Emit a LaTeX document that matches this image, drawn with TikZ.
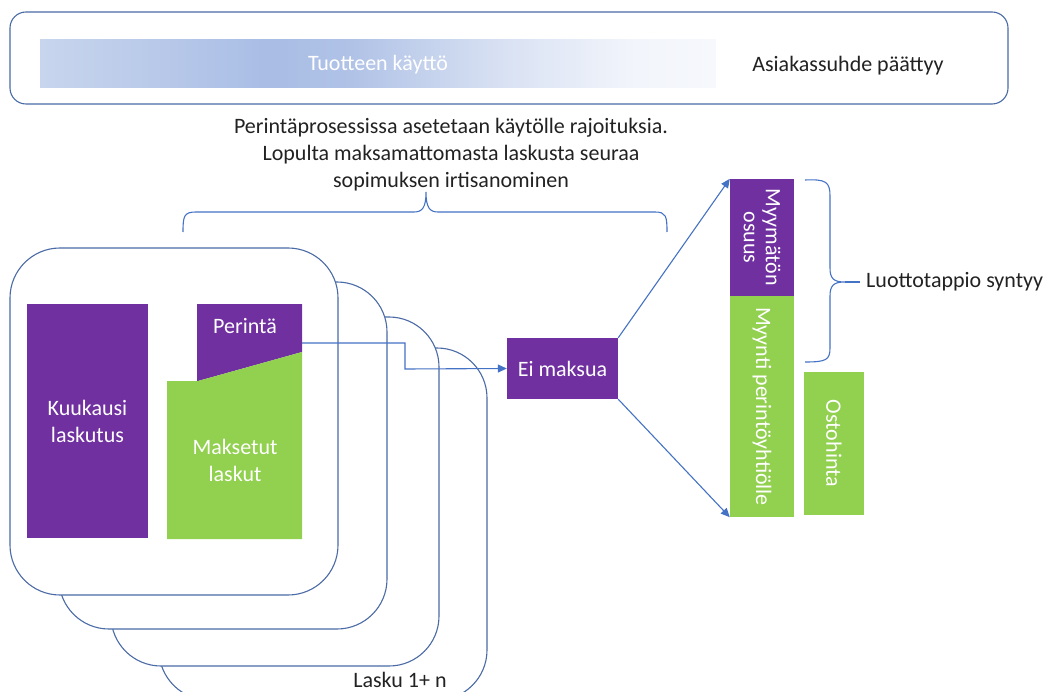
\documentclass[tikz,border=0pt]{standalone}
\usepackage{fontspec}
\setmainfont{Carlito}
\usetikzlibrary{arrows.meta}
\definecolor{purp}{HTML}{7030A0}
\definecolor{grn}{HTML}{92D050}
\definecolor{conn}{HTML}{4472C4}
\definecolor{framec}{HTML}{4A6AA5}
\definecolor{txt}{HTML}{222222}
\definecolor{ca}{HTML}{C8D5ED}
\definecolor{cb}{HTML}{A9BDE5}
\definecolor{cc}{HTML}{B0C2E6}
\definecolor{cd}{HTML}{D8E1F3}
\definecolor{ce}{HTML}{F2F5FB}
\definecolor{cf}{HTML}{F6F8FC}
\pgfdeclarehorizontalshading{usage}{100bp}{color(0bp)=(ca); color(25bp)=(ca); color(42bp)=(cb); color(48bp)=(cc); color(59bp)=(cd); color(69bp)=(ce); color(75bp)=(cf); color(100bp)=(cf)}
\tikzset{
  stackbox/.style={draw=framec, line width=1.1pt, fill=white, rounded corners=50pt},
  pbox/.style={fill=purp, text=white, inner sep=0pt, align=center},
  gbox/.style={fill=grn, text=white, inner sep=0pt, align=center},
  conn/.style={draw=conn, line width=1.1pt, -{Triangle[length=9pt,width=8pt]}},
  bracec/.style={draw=conn, line width=1.1pt},
  lbl/.style={text=txt, inner sep=0pt, align=center},
}
\begin{document}
\begin{tikzpicture}[x=1pt,y=-1pt,font=\fontsize{22}{27}\selectfont]
\useasboundingbox (0,0) rectangle (1048,692);
% top frame
\draw[framec, line width=1.1pt, rounded corners=16pt] (10,12) rectangle (1008,104);
\shade[shading=usage] (40,40) rectangle (716,88);
\node[text=white, inner sep=0pt] (use) at (378,65) {Tuotteen käyttö};
\node[lbl] (end) at (848,66) {Asiakassuhde päättyy};
% paragraph
\node[lbl] (para) at (451,155) {Perintäprosessissa asetetaan käytölle rajoituksia.\\Lopulta maksamattomasta laskusta seuraa\\sopimuksen irtisanominen};
% top brace
\draw[bracec] (183,232) .. controls (183,216) and (184,212) .. (196,212) -- (414,212)
  .. controls (422,212) and (426,208) .. (426,192)
  .. controls (426,208) and (430,212) .. (438,212) -- (655,212)
  .. controls (666,212) and (667,216) .. (667,232);
% stack of invoices
\draw[stackbox] (159,348) rectangle (487,700);
\draw[stackbox] (111,317) rectangle (439,666);
\draw[stackbox] (59,282) rectangle (387,629);
\draw[stackbox] (10,248) rectangle (338,595);
\node[lbl, anchor=center] (lasku) at (400,680) {Lasku 1+ n};
% contents
\node[pbox, minimum width=121pt, minimum height=234pt] (kk) at (87.5,421) {Kuukausi\\laskutus};
\fill[purp] (197,304) -- (302,304) -- (302,352) -- (198,381) -- (197,381) -- cycle;
\fill[grn] (167,381) -- (198,381) -- (302,352) -- (302,539) -- (167,539) -- cycle;
\node[text=white, inner sep=0pt] (per) at (245,326) {Perintä};
\node[text=white, inner sep=0pt, align=center] (mak) at (235,460) {Maksetut\\laskut};
\coordinate (perout) at (302,343);
\coordinate (bend) at (405,343);
% Ei maksua
\node[pbox, minimum width=111pt, minimum height=61pt] (ei) at (562.5,368.5) {Ei maksua};
\draw[conn] (perout) -- (bend) -- (405,369) -- (ei.west);
% right side boxes
\node[pbox, rotate=-90, minimum width=117pt, minimum height=64pt, font=\fontsize{22}{22}\selectfont] (myy) at (762,237.5) {Myymätön\\osuus};
\node[gbox, rotate=-90, minimum width=221pt, minimum height=64pt] (myynti) at (762,406.5) {Myynti perintöyhtiölle};
\node[gbox, rotate=-90, minimum width=143pt, minimum height=60pt] (osto) at (834,443.5) {Ostohinta};
\draw[conn] (ei.north east) -- (myy.south west);
\draw[conn] (ei.south east) -- (myynti.south east);
% right brace
\draw[bracec] (805,180) .. controls (826,179) and (830,182) .. (830,196) -- (830,268)
  .. controls (830,279) and (834,282) .. (845,282)
  .. controls (834,282) and (830,285) .. (830,296) -- (830,348)
  .. controls (830,360) and (826,362) .. (805,362);
\node[lbl, anchor=west] (loss) at (866,282) {Luottotappio syntyy};
\draw[bracec] (845,282) -- ([xshift=-6pt]loss.west);
\end{tikzpicture}
\end{document}
